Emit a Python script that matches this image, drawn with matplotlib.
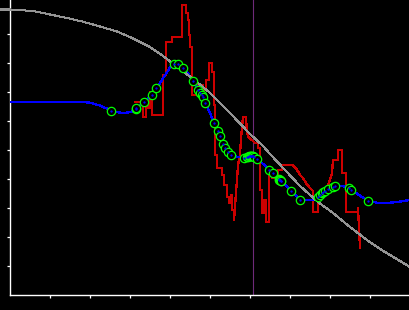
import matplotlib
matplotlib.use("Agg")
import matplotlib.pyplot as plt

# ---- data (x: horizontal units, y: vertical units) ----
gray_x = [-10, 0, 23, 40, 57, 73, 90, 107, 120, 130, 140, 153, 170, 187, 200, 220, 240, 253, 260, 275, 290, 308, 323, 340, 357, 370, 385, 400]
gray_y = [285.5, 285.5, 284, 280.5, 277, 273.3, 268.5, 263.5, 258, 253, 248, 239, 226, 213, 202, 182, 161, 149, 141, 125, 109, 93, 82, 68, 55, 46, 37, 28]

blue_x = [0, 73, 80, 90, 101, 113, 121.7, 126, 134, 142, 146.5, 163, 164.5, 168.5, 173.5, 183.3, 188.3, 190, 191.7, 192.7, 195.5,
          204.3, 208.3, 210.3, 213.5, 215.5, 218, 221.5, 228, 234, 238.5, 240, 241.5, 243, 244.5, 246.7, 252, 259.3, 263.3, 270,
          281.5, 290, 303, 308.3, 310.5, 312, 313.5, 315, 318.3, 322.7, 325.3, 330, 336.7, 339.3, 341.3, 358.3, 370, 385, 400]
blue_y = [193, 193, 192.3, 189.5, 184.5, 181.7, 183.3, 186.5, 192.7, 200.5, 206.7, 232, 231, 231, 227.3, 214.5, 205.5, 202.3, 200.5, 198.5, 192.5,
          171.7, 164, 158.7, 151, 147.5, 143.5, 140, 138, 137.5, 138.3, 139, 139, 139, 138.5, 136.5, 132, 125.5, 121.7, 115,
          104, 95, 95, 98.5, 100.5, 102.5, 103.5, 104.5, 106, 107.7, 109, 109, 108.3, 107.3, 105, 94, 91.7, 92.7, 95]

pts_x = [101, 126, 126.5, 134, 142, 146.5, 164.5, 168.5, 173.5, 183.3, 188.3, 190, 191.7, 192.7, 195.5, 204.3, 208.3, 210.3,
         213.5, 215.5, 218, 221.5, 234, 237, 238.5, 239.3, 240, 240.8, 241.5, 242.2, 243, 244.5, 246.7, 259.3, 263.3,
         269, 269.5, 270, 270.5, 271, 271.5, 281.5, 290,
         308.3, 310.5, 312, 313.5, 315, 318.3, 322.7, 325.3, 339.3, 341.3, 358.3]
pts_y = [184.5, 186.5, 187.2, 192.7, 200.5, 206.7, 231, 231, 227.3, 214.5, 205.5, 202.3, 200.5, 198.5, 192.5, 171.7, 164, 158.7,
         151, 147.5, 143.5, 140, 137.5, 138, 138.3, 138.6, 139, 139, 139, 139, 139, 138.5, 136.5, 125.5, 121.7,
         116, 115.5, 115.2, 115, 114.5, 114.2, 104, 95,
         98.5, 100.5, 102.5, 103.5, 104.5, 106, 107.7, 109, 107.3, 105, 94]

red_x = [125, 133, 133, 136, 136, 138, 138, 140, 140, 142, 142, 153, 153, 156, 156, 162, 162, 172, 172, 176, 176, 178, 178, 179, 179, 180,
         180, 182, 182, 188, 188, 193, 193, 196, 196, 199, 199, 202, 202, 204, 204, 205, 205, 207, 207, 212, 212, 214, 214, 217, 217,
         219, 219, 221, 221, 222, 222, 224, 224, 225, 226, 227, 228, 230, 231, 233, 236, 237, 239, 242, 245, 248, 248, 250, 250, 252,
         252, 254, 254, 256, 256, 259, 259, 262, 262, 268, 268, 272, 272, 282, 286, 290, 293, 296, 300, 303, 303, 308, 308, 309, 311,
         313, 316, 318, 320, 322, 323, 328, 328, 332, 332, 336, 336, 348, 348, 349, 350]
red_y = [193, 193, 178, 178, 194, 194, 187, 187, 203, 203, 180, 180, 220, 220, 253, 253, 258, 258, 290, 290, 282, 282, 275, 275, 260, 260,
         248, 248, 200, 200, 210, 210, 205, 205, 215, 215, 232, 232, 223, 223, 190, 190, 140, 140, 127, 127, 120, 120, 110, 110, 98,
         98, 92, 92, 100, 100, 85, 85, 75, 87, 103, 115, 130, 140, 157, 178, 178, 162, 157, 155, 152, 152, 147, 147, 105, 105,
         82, 82, 95, 95, 73, 73, 125, 125, 117, 117, 125, 125, 130, 130, 127, 120, 117, 112, 107, 104, 83, 83, 90, 98, 100,
         103, 105, 110, 115, 122, 135, 135, 145, 145, 122, 122, 83, 83, 87, 67, 47]

marker_line_x = 243.3
xticks = [40, 80, 120, 160, 200, 240, 280, 320, 360]
yticks = [29, 58, 87, 116, 145, 174, 203, 232, 261]

# ---- figure ----
fig = plt.figure(figsize=(4.1, 3.1), dpi=100, facecolor="black")
ax = fig.add_axes([10 / 410, 15 / 310, 400 / 410, 295 / 310])
ax.set_facecolor("black")
ax.set_xlim(0, 400)
ax.set_ylim(0, 295)

ax.axvline(marker_line_x, color="#6e2a7a", lw=0.8, zorder=1)
ax.plot(red_x, red_y, color="#cc0000", lw=0.9, zorder=2, antialiased=False)
ax.plot(blue_x, blue_y, color="#0000ff", lw=0.9, zorder=3, antialiased=False)
ax.plot(gray_x, gray_y, color="#949494", lw=0.75, zorder=4, clip_on=False, antialiased=False)
ax.plot(pts_x, pts_y, linestyle="none", marker="o", markersize=6, markerfacecolor="black",
        markeredgecolor="#00ff00", markeredgewidth=0.9, zorder=5)
ax.plot(pts_x, pts_y, linestyle="none", marker="o", markersize=1.3, markerfacecolor="#0000ff",
        markeredgecolor="#0000ff", markeredgewidth=0.3, zorder=6)

for s in ["top", "right"]:
    ax.spines[s].set_visible(False)
for s in ["left", "bottom"]:
    ax.spines[s].set_color("white")
    ax.spines[s].set_linewidth(1.0)
ax.set_xticks(xticks)
ax.set_yticks(yticks)
ax.tick_params(colors="white", direction="out", length=2.5, width=0.9,
               labelleft=False, labelbottom=False)

fig.savefig("out.png", dpi=100, facecolor="black")
